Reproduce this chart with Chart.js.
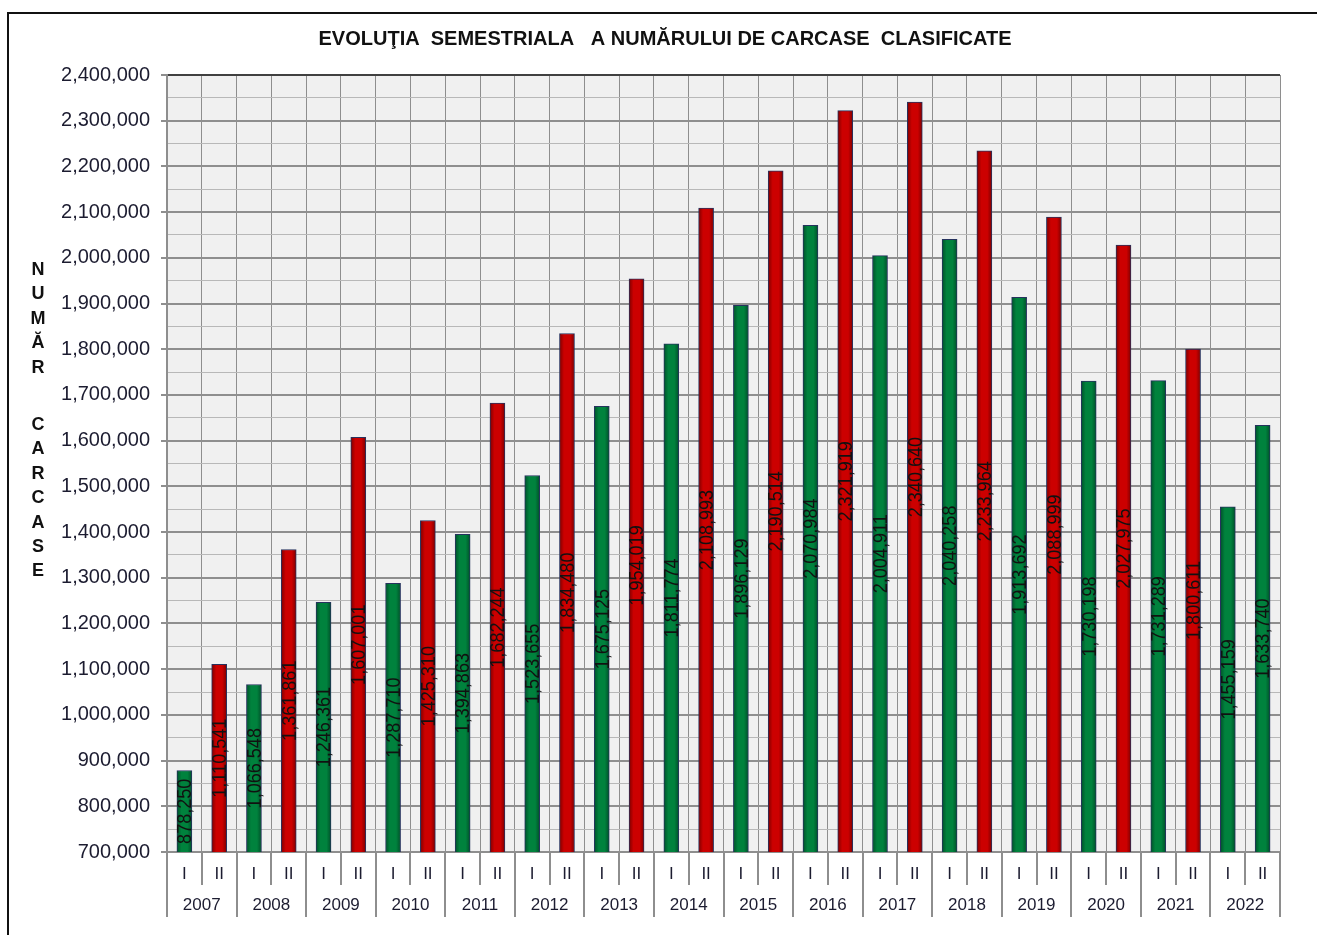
<!DOCTYPE html>
<html>
<head>
<meta charset="utf-8">
<script src="https://cdn.jsdelivr.net/npm/chart.js@4.4.0/dist/chart.umd.min.js"></script>
<style>
  html, body { margin: 0; padding: 0; background: #fff; overflow: hidden; }
  #frame { position: absolute; left: 7px; top: 12px; width: 1400px; height: 1000px; border-left: 2px solid #111; border-top: 2px solid #111; }
  #wrap { position: absolute; left: 0; top: 0; width: 1317px; height: 935px; }
</style>
</head>
<body>
<div id="frame"></div>
<div id="wrap"><canvas id="carcaseChart"></canvas></div>
<script>
const years = ['2007', '2008', '2009', '2010', '2011', '2012', '2013', '2014',
               '2015', '2016', '2017', '2018', '2019', '2020', '2021', '2022'];
const semesters = ['I', 'II'];
// carcase clasificate, semestrul I si II pentru fiecare an
const carcase = [
    878250, 1110541,
    1066548, 1361861,
    1246361, 1607001,
    1287710, 1425310,
    1394863, 1682244,
    1523655, 1834480,
    1675125, 1954019,
    1811774, 2108993,
    1896129, 2190514,
    2070984, 2321919,
    2004911, 2340640,
    2040258, 2233964,
    1913692, 2088999,
    1730198, 2027975,
    1731289, 1800611,
    1455159, 1633740
];
const yMin = 700000;
const yMax = 2400000;
const yStep = 100000;
const titleText = 'EVOLUŢIA  SEMESTRIALA   A NUMĂRULUI DE CARCASE  CLASIFICATE';
const axisTitle = 'NUMĂR CARCASE';

const colors = {
    green: '#00823d',
    greenDark: '#00502a',
    red: '#cc0000',
    redDark: '#7e0000',
    barBorder: '#26325e',
    plotBg: '#f0f0f0',
    gridMajor: '#8e8e8e',
    gridMinor: '#b8b8b8',
    frameDark: '#404040',
    text: '#1c1c30'
};

const labels = years.flatMap(() => semesters);
const fmt = (v) => v.toLocaleString('en-US');
const BAR_W = 15;
// ultima bara (2022 II) este verde in original
const isGreen = (i) => i % 2 === 0 || i === carcase.length - 1;

function barFill(c) {
    const chart = c.chart;
    const xs = chart.scales.x;
    const base = isGreen(c.dataIndex) ? colors.green : colors.red;
    if (!xs) return base;
    const x = xs.getPixelForValue(c.dataIndex);
    if (!isFinite(x)) return base;
    const dark = isGreen(c.dataIndex) ? colors.greenDark : colors.redDark;
    const g = chart.ctx.createLinearGradient(x - BAR_W / 2, 0, x + BAR_W / 2, 0);
    g.addColorStop(0, dark);
    g.addColorStop(0.3, base);
    g.addColorStop(0.7, base);
    g.addColorStop(1, dark);
    return g;
}

const decorPlugin = {
    id: 'decor',
    beforeDraw(chart) {
        const { ctx, chartArea: a } = chart;
        ctx.save();
        ctx.fillStyle = colors.plotBg;
        ctx.fillRect(a.left, a.top, a.right - a.left, a.bottom - a.top);
        ctx.restore();
    },
    afterDatasetsDraw(chart) {
        const { ctx, chartArea: a } = chart;
        const meta = chart.getDatasetMeta(0);
        ctx.save();
        ctx.font = '21px "Liberation Sans", Arial, sans-serif';
        ctx.fillStyle = '#111';
        ctx.textAlign = 'center';
        ctx.textBaseline = 'middle';
        meta.data.forEach((bar, i) => {
            const mid = (bar.y + Math.min(bar.base, a.bottom)) / 2;
            ctx.save();
            ctx.translate(bar.x + 1, mid);
            ctx.rotate(-Math.PI / 2);
            ctx.scale(0.86, 1);
            ctx.fillText(fmt(carcase[i]), 0, 0);
            ctx.restore();
        });
        ctx.restore();
    },
    afterDraw(chart) {
        const { ctx, chartArea: a } = chart;
        const w = (a.right - a.left) / labels.length;
        ctx.save();
        // separatoare sub axa X
        ctx.strokeStyle = colors.gridMajor;
        ctx.lineWidth = 2;
        for (let i = 0; i <= labels.length; i++) {
            const x = Math.round(a.left + i * w);
            const len = (i % 2 === 0) ? 65 : 33;
            ctx.beginPath();
            ctx.moveTo(x, a.bottom);
            ctx.lineTo(x, a.bottom + len);
            ctx.stroke();
        }
        // anii
        ctx.fillStyle = colors.text;
        ctx.font = '17px "Liberation Sans", Arial, sans-serif';
        ctx.textAlign = 'center';
        ctx.textBaseline = 'middle';
        years.forEach((y, i) => {
            ctx.fillText(y, a.left + (2 * i + 1) * w, a.bottom + 53);
        });
        // titlul axei Y, litere una sub alta
        ctx.fillStyle = '#111';
        ctx.font = 'bold 18px "Liberation Sans", Arial, sans-serif';
        let ty = 270;
        axisTitle.split('').forEach((ch) => {
            if (ch === ' ') { ty += 24.4 * 1.35; return; }
            ctx.fillText(ch, 38, ty);
            ty += 24.4;
        });
        ctx.restore();
    }
};

new Chart(document.getElementById('carcaseChart'), {
    type: 'bar',
    data: {
        labels: labels,
        datasets: [{
            label: 'Carcase clasificate',
            data: carcase,
            backgroundColor: barFill,
            borderColor: colors.barBorder,
            borderWidth: 1,
            borderSkipped: false,
            barThickness: BAR_W
        }]
    },
    options: {
        responsive: true,
        maintainAspectRatio: false,
        animation: false,
        layout: { padding: { left: 50, right: 37, top: 0, bottom: 0 } },
        plugins: {
            legend: { display: false },
            tooltip: { enabled: false },
            title: {
                display: true,
                text: titleText,
                color: '#111',
                font: { family: '"Liberation Sans", Arial, sans-serif', size: 20, weight: 'bold' },
                padding: { top: 27, bottom: 24 }
            }
        },
        scales: {
            x: {
                offset: true,
                grid: {
                    offset: true,
                    drawTicks: false,
                    color: (c) => c.index === labels.length ? colors.frameDark : colors.gridMajor,
                    lineWidth: (c) => c.index === labels.length ? 2 : 1
                },
                border: { color: colors.gridMajor, width: 2 },
                ticks: {
                    autoSkip: false,
                    maxRotation: 0,
                    padding: 12,
                    color: colors.text,
                    font: { family: '"Liberation Sans", Arial, sans-serif', size: 17 }
                },
                afterFit: (scale) => { scale.height = 83; }
            },
            y: {
                min: yMin,
                max: yMax,
                grid: {
                    color: (c) => {
                        if (c.tick.value === yMax) return colors.frameDark;
                        return c.tick.value % yStep === 0 ? colors.gridMajor : colors.gridMinor;
                    },
                    lineWidth: (c) => c.tick.value % yStep === 0 ? 2 : 1,
                    tickLength: 6,
                    tickColor: (c) => c.tick.value % yStep === 0 ? colors.gridMajor : 'rgba(0,0,0,0)'
                },
                border: { color: colors.gridMajor, width: 2 },
                ticks: {
                    stepSize: yStep / 2,
                    autoSkip: false,
                    padding: 11,
                    color: colors.text,
                    font: { family: '"Liberation Sans", Arial, sans-serif', size: 20 },
                    callback: (v) => v % yStep === 0 ? fmt(v) : ''
                },
                afterFit: (scale) => { scale.width = 117; }
            }
        }
    },
    plugins: [decorPlugin]
});
</script>
</body>
</html>
